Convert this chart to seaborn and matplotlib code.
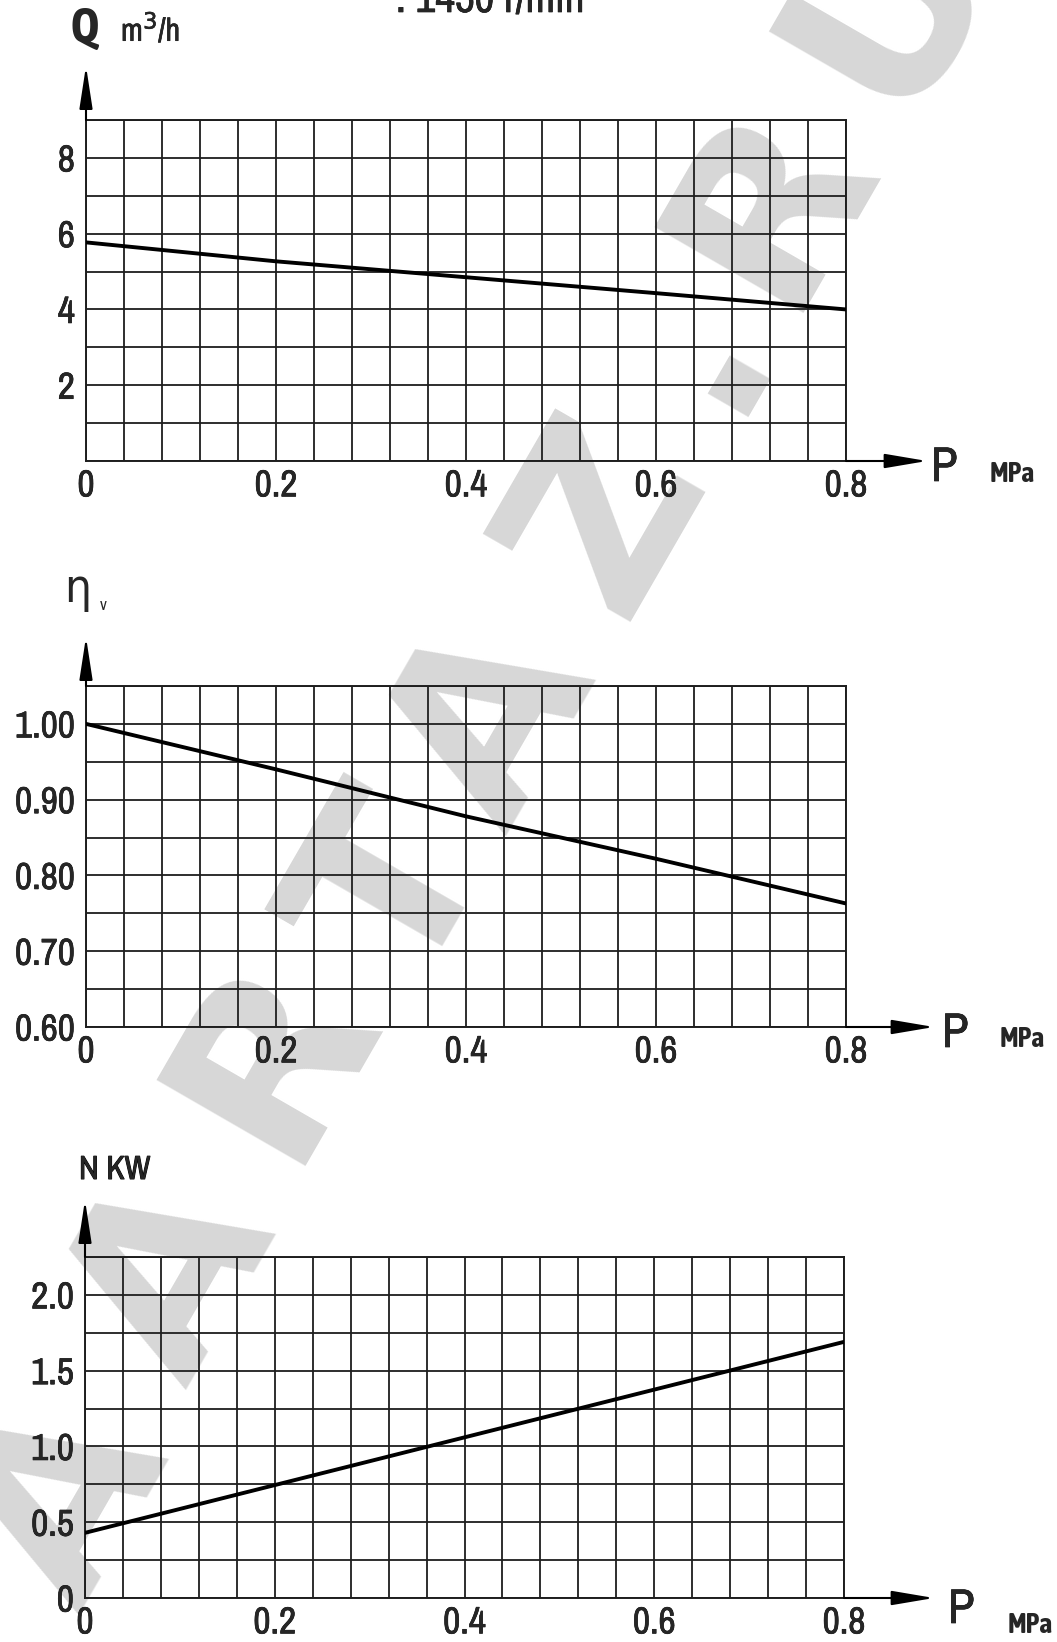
import matplotlib
matplotlib.use("Agg")
import matplotlib.pyplot as plt
from matplotlib.patches import FancyArrowPatch
import matplotlib.patheffects as pe
import seaborn as sns
import numpy as np
import pandas as pd

# ---- data ----
pressure = [0.0, 0.2, 0.4, 0.6, 0.8]
flow_q = [5.77, 5.27, 4.85, 4.43, 4.00]
vol_eff = [1.00, 0.940, 0.878, 0.822, 0.763]
power_n = [0.43, 0.745, 1.06, 1.375, 1.69]

x_tick_vals = [0, 0.2, 0.4, 0.6, 0.8]
x_tick_labels = ["0", "0.2", "0.4", "0.6", "0.8"]
q_ticks = [2, 4, 6, 8]
q_labels = ["2", "4", "6", "8"]
eta_ticks = [0.6, 0.7, 0.8, 0.9, 1.0]
eta_labels = ["0.60", "0.70", "0.80", "0.90", "1.00"]
n_ticks = [0, 0.5, 1.0, 1.5, 2.0]
n_labels = ["0", "0.5", "1.0", "1.5", "2.0"]

watermark_letters = ["A", "A", "R", "T", "A", "Z", ".", "R", "U"]

sns.set_style("white")
NARROW = ["Archivo Narrow", "DejaVu Sans"]
BOLDN = ["Asap Condensed", "DejaVu Sans"]
plt.rcParams["font.family"] = NARROW

W, H = 1057, 1642
fig = plt.figure(figsize=(W / 100, H / 100), dpi=100)
fig.patch.set_facecolor("white")

med = [pe.withStroke(linewidth=0.45, foreground="black")]
thick = [pe.withStroke(linewidth=0.7, foreground="black")]


def fx(x):
    return x / W


def fy(y):
    return 1 - y / H


# watermark (behind the grids)
wm_pos = [(68, 1503), (175, 1278), (274, 1055), (396, 893), (495, 724), (607, 515),
          (747, 376), (772, 202), (888, 2)]
for ch, (px, py) in zip(watermark_letters, wm_pos):
    if ch == ".":
        fig.text(fx(px), fy(py), ch, rotation=60, rotation_mode="anchor",
                 fontsize=180, weight="bold", color="#d7d7d7", ha="center",
                 va="baseline", family=["DejaVu Sans"], zorder=-5)
    else:
        fig.text(fx(px), fy(py), ch, rotation=60, fontsize=170,
                 weight="bold", color="#d7d7d7", ha="center", va="center",
                 family=["DejaVu Sans"], zorder=-5)

panels = [
    dict(box=(86, 120, 846, 461), y=flow_q, ylim=(0, 9), ystep=1,
         ticks=q_ticks, labels=q_labels, ytip=66, xtip=927,
         P=(931, 481), MPa=(990, 482)),
    dict(box=(86, 686, 846, 1027), y=vol_eff, ylim=(0.6, 1.05), ystep=0.05,
         ticks=eta_ticks, labels=eta_labels, ytip=637, xtip=934,
         P=(942, 1047), MPa=(1000, 1047)),
    dict(box=(85, 1257, 844, 1598), y=power_n, ylim=(0, 2.25), ystep=0.25,
         ticks=n_ticks, labels=n_labels, ytip=1200, xtip=934,
         P=(948, 1623), MPa=(1008, 1633)),
]

for p in panels:
    l, t, r, b = p["box"]
    ax = fig.add_axes([fx(l), fy(b), fx(r) - fx(l), (b - t) / H])
    ax.patch.set_alpha(0)
    df = pd.DataFrame({"P": pressure, "v": p["y"]})
    sns.lineplot(data=df, x="P", y="v", ax=ax, color="black", linewidth=2.8, zorder=5)
    ax.set_xlim(0, 0.8)
    ax.set_ylim(*p["ylim"])
    ax.set_xticks(x_tick_vals)
    ax.set_xticklabels(x_tick_labels)
    ax.set_xticks(np.arange(0, 0.8001, 0.04), minor=True)
    ax.set_yticks(p["ticks"])
    ax.set_yticklabels(p["labels"])
    ax.set_yticks(np.arange(p["ylim"][0], p["ylim"][1] + 1e-6, p["ystep"]), minor=True)
    ax.grid(True, which="both", color="#1e1e1e", linewidth=1.3)
    ax.set_axisbelow(True)
    ax.set_xlabel("")
    ax.set_ylabel("")
    ax.tick_params(axis="both", which="both", length=0)
    ax.tick_params(axis="x", pad=6, labelsize=27)
    ax.tick_params(axis="y", pad=8, labelsize=27)
    for lab in ax.get_xticklabels() + ax.get_yticklabels():
        lab.set_path_effects(med)
    for s in ax.spines.values():
        s.set_color("#1e1e1e")
        s.set_linewidth(1.4)
    # axis arrows
    fig.add_artist(FancyArrowPatch(
        (fx(l), fy(t)), (fx(l), fy(p["ytip"])), transform=fig.transFigure,
        arrowstyle="-|>,head_length=1.3,head_width=0.2", mutation_scale=20,
        color="black", linewidth=1.5, shrinkA=0, shrinkB=0))
    fig.add_artist(FancyArrowPatch(
        (fx(r), fy(b)), (fx(p["xtip"]), fy(b)), transform=fig.transFigure,
        arrowstyle="-|>,head_length=1.3,head_width=0.22", mutation_scale=20,
        color="black", linewidth=1.5, shrinkA=0, shrinkB=0))
    fig.text(fx(p["P"][0]), fy(p["P"][1]), "P", fontsize=35, ha="left", va="baseline",
             path_effects=med)
    fig.text(fx(p["MPa"][0]), fy(p["MPa"][1]), "MPa", fontsize=20, weight="bold",
             ha="left", va="baseline", family=BOLDN)

# axis titles
fig.text(fx(70), fy(42), "Q", fontsize=35, weight="bold", ha="left", va="baseline",
         family=BOLDN)
fig.text(fx(121), fy(41), "m$^3$/h", fontsize=23, ha="left", va="baseline",
         path_effects=[pe.withStroke(linewidth=0.4, foreground="black")])
fig.text(fx(64), fy(602), "η", fontsize=34, ha="left", va="baseline",
         family=["DejaVu Sans"], fontstretch="condensed")
fig.text(fx(100), fy(610), "v", fontsize=12, ha="left", va="baseline")
fig.text(fx(79), fy(1179), "N KW", fontsize=24, ha="left", va="baseline",
         path_effects=thick)
fig.text(fx(396), fy(12), ": 1450 r/min", fontsize=31, ha="left", va="baseline",
         path_effects=med)

fig.savefig("out.png", dpi=100, facecolor="white")
